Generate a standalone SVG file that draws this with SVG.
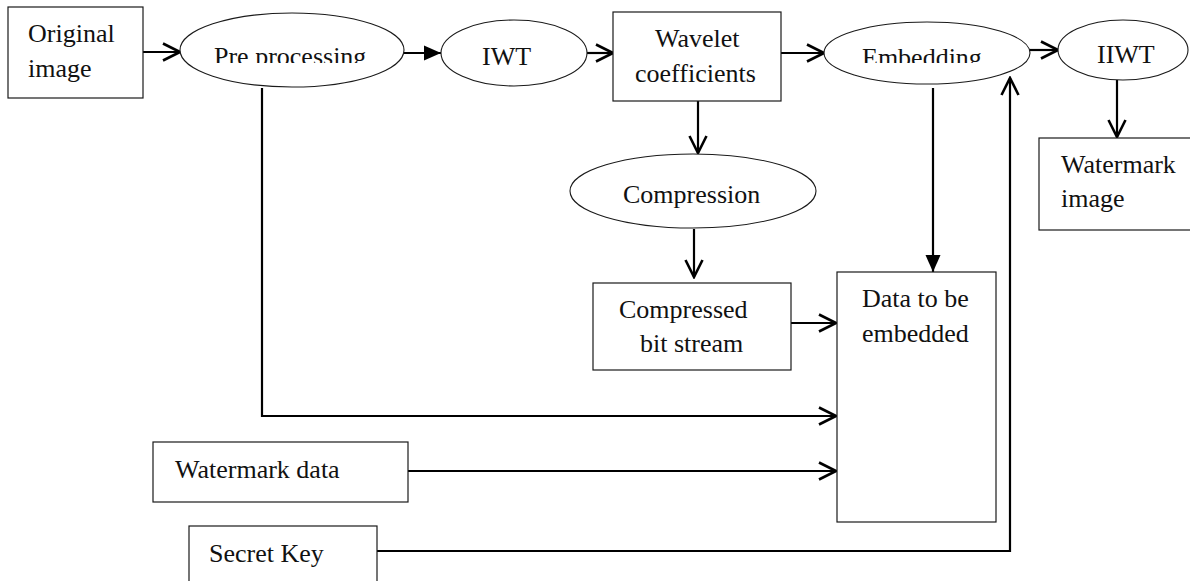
<svg xmlns="http://www.w3.org/2000/svg" width="1190" height="581" viewBox="0 0 1190 581">
<style>
.box{fill:#fff;stroke:#1a1a1a;stroke-width:1.2}
.ell{fill:#fff;stroke:#1a1a1a;stroke-width:1.1}
.t{font-family:"Liberation Serif","Times New Roman",serif;font-size:26px;fill:#111}
.c{fill:none;stroke:#000;stroke-width:2.2}
.o{marker-end:url(#open)}
.f{marker-end:url(#fill)}
</style>
<defs>
<marker id="open" markerUnits="userSpaceOnUse" markerWidth="22" markerHeight="22" viewBox="0 0 22 22" refX="20" refY="11" orient="auto">
<path d="M3,2.5 L20,11 L3,19.5" fill="none" stroke="#000" stroke-width="2.6"/>
</marker>
<marker id="fill" markerUnits="userSpaceOnUse" markerWidth="18" markerHeight="16" viewBox="0 0 18 16" refX="17" refY="8" orient="auto">
<path d="M0,0.5 L17,8 L0,15.5 z" fill="#000"/>
</marker>
<clipPath id="clipPre"><rect x="180" y="10" width="230" height="53"/></clipPath>
<clipPath id="clipEmb"><rect x="820" y="10" width="220" height="53"/></clipPath>
</defs>

<g id="connectors">
<line class="c o" x1="143" y1="52" x2="180" y2="52"/>
<line class="c f" x1="403" y1="53" x2="441" y2="53"/>
<line class="c o" x1="587" y1="53" x2="613" y2="53"/>
<line class="c o" x1="781" y1="53" x2="824" y2="53"/>
<line class="c o" x1="1030" y1="50" x2="1058" y2="50"/>
<line class="c o" x1="1117" y1="80" x2="1117" y2="137"/>
<line class="c o" x1="698" y1="101" x2="698" y2="153"/>
<line class="c o" x1="694" y1="229" x2="694" y2="277"/>
<line class="c f" x1="933" y1="88" x2="933" y2="272"/>
<line class="c o" x1="791" y1="323" x2="836" y2="323"/>
<polyline class="c o" points="262,88 262,416 836,416"/>
<line class="c o" x1="408" y1="471" x2="836" y2="471"/>
<polyline class="c o" points="377,551 1010,551 1010,78"/>
</g>

<g id="original-image">
<rect class="box" x="8" y="7" width="135" height="91"/>
<text class="t" x="28" y="42">Original</text>
<text class="t" x="28" y="77">image</text>
</g>

<g id="pre-processing">
<ellipse class="ell" cx="292" cy="50" rx="112" ry="37"/>
<text class="t" x="214" y="65" clip-path="url(#clipPre)">Pre processing</text>
</g>

<g id="iwt">
<ellipse class="ell" cx="514" cy="53" rx="73" ry="33"/>
<text class="t" x="482" y="65">IWT</text>
</g>

<g id="wavelet-coefficients">
<rect class="box" x="613" y="12" width="168" height="89"/>
<text class="t" x="655" y="47">Wavelet</text>
<text class="t" x="635" y="82">coefficients</text>
</g>

<g id="embedding">
<ellipse class="ell" cx="927" cy="53" rx="103" ry="31"/>
<text class="t" x="862" y="66" clip-path="url(#clipEmb)">Embedding</text>
</g>

<g id="iiwt">
<ellipse class="ell" cx="1123" cy="50" rx="65" ry="30"/>
<text class="t" x="1097" y="63">IIWT</text>
</g>

<g id="watermark-image">
<rect class="box" x="1039" y="138" width="160" height="92"/>
<text class="t" x="1061" y="173">Watermark</text>
<text class="t" x="1061" y="207">image</text>
</g>

<g id="compression">
<ellipse class="ell" cx="693" cy="191" rx="123" ry="37"/>
<text class="t" x="623" y="203">Compression</text>
</g>

<g id="compressed-bit-stream">
<rect class="box" x="593" y="283" width="198" height="87"/>
<text class="t" x="619" y="318">Compressed</text>
<text class="t" x="640" y="352">bit stream</text>
</g>

<g id="data-to-be-embedded">
<rect class="box" x="837" y="272" width="159" height="250"/>
<text class="t" x="862" y="307">Data to be</text>
<text class="t" x="862" y="342">embedded</text>
</g>

<g id="watermark-data">
<rect class="box" x="153" y="442" width="255" height="60"/>
<text class="t" x="175" y="478">Watermark data</text>
</g>

<g id="secret-key">
<rect class="box" x="189" y="526" width="188" height="70"/>
<text class="t" x="209" y="562">Secret Key</text>
</g>
</svg>
